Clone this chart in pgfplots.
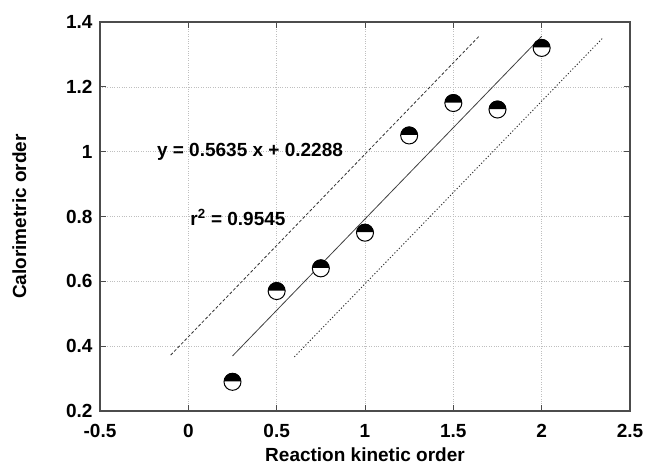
\documentclass[border=0pt]{standalone}
\usepackage{fontspec}
\setmainfont{Liberation Sans}
\usepackage{pgfplots}
\pgfplotsset{compat=1.18}

\pgfdeclareplotmark{halfcirc}{%
  \pgfpathcircle{\pgfpointorigin}{\pgfplotmarksize}%
  \pgfsetfillcolor{white}\pgfusepathqfill
  \pgfpathmoveto{\pgfpoint{\pgfplotmarksize}{0.06\pgfplotmarksize}}%
  \pgfpatharc{0}{180}{\pgfplotmarksize}%
  \pgfpathclose
  \pgfsetfillcolor{black}\pgfusepathqfill
  \pgfpathcircle{\pgfpointorigin}{\pgfplotmarksize}%
  \pgfusepathqstroke
}

\begin{document}
\begin{tikzpicture}
\begin{axis}[
  width=530pt, height=389pt, scale only axis,
  xmin=-0.5, xmax=2.5, ymin=0.2, ymax=1.4,
  xtick={-0.5,0,0.5,1,1.5,2,2.5},
  xticklabels={-0.5,0,0.5,1,1.5,2,2.5},
  ytick={0.2,0.4,0.6,0.8,1,1.2,1.4},
  yticklabels={0.2,0.4,0.6,0.8,1,1.2,1.4},
  tick label style={font=\fontsize{19}{22}\selectfont\bfseries},
  xticklabel style={yshift=-10pt},
  yticklabel style={xshift=-4pt},
  grid=major,
  major grid style={dotted, gray!50, line width=0.6pt},
  tick align=inside, major tick length=6pt,
  tick style={gray!60!black, line width=1pt},
  axis line style={gray!60!black, line width=1.3pt},
  xlabel={Reaction kinetic order},
  ylabel={Calorimetric order},
  label style={font=\fontsize{19}{22}\selectfont\bfseries},
  xlabel style={at={(axis description cs:0.5,-0.113)}, anchor=center},
  ylabel style={at={(axis description cs:-0.152,0.5)}, anchor=center, rotate=0},
]
% upper band (dashed)
\addplot[black!80, line width=0.8pt, dash pattern=on 3pt off 2pt] coordinates {(-0.1,0.3725) (1.65,1.3586)};
% regression (solid)
\addplot[gray!50!black, line width=0.8pt] coordinates {(0.25,0.3697) (2.0,1.3558)};
% lower band (dotted)
\addplot[black!80, line width=0.9pt, dash pattern=on 1.2pt off 2pt] coordinates {(0.6,0.3669) (2.35,1.3530)};
% data
\addplot[only marks, mark=halfcirc, mark size=8.5pt, line width=1pt, black] coordinates {
  (0.25,0.29) (0.5,0.57) (0.75,0.64) (1.0,0.75)
  (1.25,1.05) (1.5,1.15) (1.75,1.13) (2.0,1.32)
};
\node[font=\fontsize{19}{22}\selectfont\bfseries] at (axis cs:0.349,1.0) {y = 0.5635 x + 0.2288};
\node[font=\fontsize{19}{22}\selectfont\bfseries] at (axis cs:0.281,0.797) {r\textsuperscript{2} = 0.9545};
\end{axis}
\pgfresetboundingbox
\path[use as bounding box] ([shift={(-100pt,-58pt)}]current axis.south west) rectangle ([shift={(18pt,22pt)}]current axis.north east);
\end{tikzpicture}
\end{document}
